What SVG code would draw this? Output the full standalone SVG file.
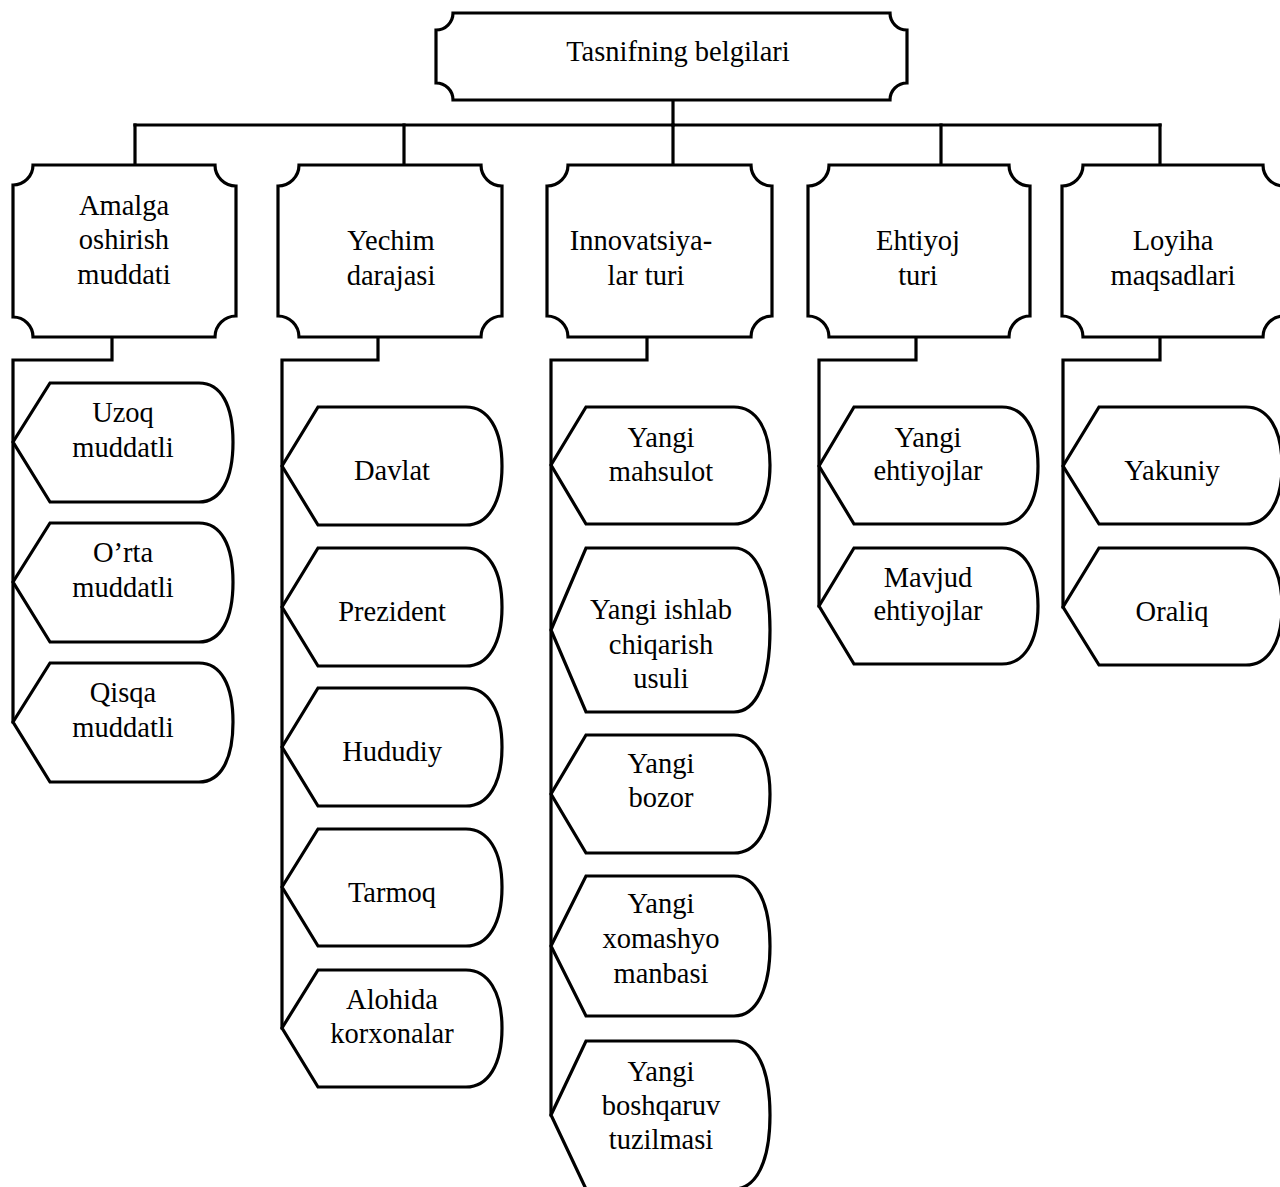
<svg xmlns="http://www.w3.org/2000/svg" width="1280" height="1187" viewBox="0 0 1280 1187">
  <style>
    .box { fill: #ffffff; stroke: #000000; stroke-width: 3.2; stroke-linejoin: miter; }
    .wire { fill: none; stroke: #000000; stroke-width: 3.2; stroke-linecap: square; stroke-linejoin: miter; }
    text { font-family: "Liberation Serif", "Times New Roman", serif; font-size: 28.5px; fill: #000000; text-anchor: middle; }
  </style>
  <rect width="1280" height="1187" fill="#ffffff"/>

  <!-- connectors -->
  <g id="connectors">
    <path class="wire" d="M673,100 V125"/>
    <path class="wire" d="M135,125 H1160"/>
    <path class="wire" d="M135,125 V165"/>
    <path class="wire" d="M404,125 V165"/>
    <path class="wire" d="M673,125 V165"/>
    <path class="wire" d="M941,125 V165"/>
    <path class="wire" d="M1160,125 V165"/>
    <path class="wire" d="M112,337 V360 H13 V722"/>
    <path class="wire" d="M378,337 V360 H282 V1028"/>
    <path class="wire" d="M647,337 V360 H551 V1115"/>
    <path class="wire" d="M916,337 V360 H819 V606"/>
    <path class="wire" d="M1160,337 V360 H1063 V607"/>
  </g>

  <!-- root -->
  <g id="root">
    <path class="box" d="M453,13 H890 A17,17 0 0 0 907,30 V83 A17,17 0 0 0 890,100 H453 A17,17 0 0 0 436,83 V30 A17,17 0 0 0 453,13 Z"/>
    <text x="678" y="61">Tasnifning belgilari</text>
  </g>

  <!-- categories -->
  <g id="cat-amalga">
    <path class="box" d="M33,165 H215 A21,21 0 0 0 236,186 V316 A21,21 0 0 0 215,337 H33 A20,20 0 0 0 13,317 V185 A20,20 0 0 0 33,165 Z"/>
    <text x="124" y="215">Amalga</text>
    <text x="124" y="249">oshirish</text>
    <text x="124" y="284">muddati</text>
  </g>
  <g id="cat-yechim">
    <path class="box" d="M299,165 H481 A21,21 0 0 0 502,186 V316 A21,21 0 0 0 481,337 H299 A21,21 0 0 0 278,316 V186 A21,21 0 0 0 299,165 Z"/>
    <text x="391" y="250">Yechim</text>
    <text x="391" y="285">darajasi</text>
  </g>
  <g id="cat-innovatsiya">
    <path class="box" d="M568,165 H751 A21,21 0 0 0 772,186 V316 A21,21 0 0 0 751,337 H568 A21,21 0 0 0 547,316 V186 A21,21 0 0 0 568,165 Z"/>
    <text x="641" y="250">Innovatsiya-</text>
    <text x="646" y="285">lar turi</text>
  </g>
  <g id="cat-ehtiyoj">
    <path class="box" d="M829,165 H1009 A21,21 0 0 0 1030,186 V316 A21,21 0 0 0 1009,337 H829 A21,21 0 0 0 808,316 V186 A21,21 0 0 0 829,165 Z"/>
    <text x="918" y="250">Ehtiyoj</text>
    <text x="918" y="285">turi</text>
  </g>
  <g id="cat-loyiha">
    <path class="box" d="M1083,165 H1263 A21,21 0 0 0 1284,186 V316 A21,21 0 0 0 1263,337 H1083 A21,21 0 0 0 1062,316 V186 A21,21 0 0 0 1083,165 Z"/>
    <text x="1173" y="250">Loyiha</text>
    <text x="1173" y="285">maqsadlari</text>
  </g>

  <!-- Amalga oshirish muddati: leaves -->
  <g id="leaf-uzoq">
    <path class="box" d="M13,442 L50,383 H199 C221,383 233,405 233,442 C233,479 221,502 199,502 H50 Z"/>
    <text x="123" y="422">Uzoq</text>
    <text x="123" y="457">muddatli</text>
  </g>
  <g id="leaf-orta">
    <path class="box" d="M13,582 L50,523 H199 C221,523 233,545 233,582 C233,619 221,642 199,642 H50 Z"/>
    <text x="123" y="562">O’rta</text>
    <text x="123" y="597">muddatli</text>
  </g>
  <g id="leaf-qisqa">
    <path class="box" d="M13,722 L50,663 H199 C221,663 233,685 233,722 C233,759 221,782 199,782 H50 Z"/>
    <text x="123" y="702">Qisqa</text>
    <text x="123" y="737">muddatli</text>
  </g>

  <!-- Yechim darajasi: leaves -->
  <g id="leaf-davlat">
    <path class="box" d="M282,466 L318,407 H466 C488,407 502,429 502,466 C502,503 488,525 466,525 H318 Z"/>
    <text x="392" y="480">Davlat</text>
  </g>
  <g id="leaf-prezident">
    <path class="box" d="M282,607 L318,548 H466 C488,548 502,570 502,607 C502,644 488,666 466,666 H318 Z"/>
    <text x="392" y="621">Prezident</text>
  </g>
  <g id="leaf-hududiy">
    <path class="box" d="M282,747 L318,688 H466 C488,688 502,710 502,747 C502,784 488,806 466,806 H318 Z"/>
    <text x="392" y="761">Hududiy</text>
  </g>
  <g id="leaf-tarmoq">
    <path class="box" d="M282,887 L318,829 H466 C488,829 502,851 502,887 C502,924 488,946 466,946 H318 Z"/>
    <text x="392" y="902">Tarmoq</text>
  </g>
  <g id="leaf-alohida">
    <path class="box" d="M282,1028 L318,970 H466 C488,970 502,992 502,1028 C502,1065 488,1087 466,1087 H318 Z"/>
    <text x="392" y="1009">Alohida</text>
    <text x="392" y="1043">korxonalar</text>
  </g>

  <!-- Innovatsiyalar turi: leaves -->
  <g id="leaf-mahsulot">
    <path class="box" d="M551,465 L586,407 H734 C756,407 770,429 770,465 C770,502 756,524 734,524 H586 Z"/>
    <text x="661" y="447">Yangi</text>
    <text x="661" y="481">mahsulot</text>
  </g>
  <g id="leaf-ishlab">
    <path class="box" d="M551,630 L586,548 H734 C756,548 770,578 770,630 C770,682 756,712 734,712 H586 Z"/>
    <text x="661" y="619">Yangi ishlab</text>
    <text x="661" y="654">chiqarish</text>
    <text x="661" y="688">usuli</text>
  </g>
  <g id="leaf-bozor">
    <path class="box" d="M551,794 L586,735 H734 C756,735 770,757 770,794 C770,831 756,853 734,853 H586 Z"/>
    <text x="661" y="773">Yangi</text>
    <text x="661" y="807">bozor</text>
  </g>
  <g id="leaf-xomashyo">
    <path class="box" d="M551,946 L586,876 H734 C756,876 770,902 770,946 C770,990 756,1016 734,1016 H586 Z"/>
    <text x="661" y="913">Yangi</text>
    <text x="661" y="948">xomashyo</text>
    <text x="661" y="983">manbasi</text>
  </g>
  <g id="leaf-boshqaruv">
    <path class="box" d="M551,1115 L586,1041 H734 C756,1041 770,1068 770,1115 C770,1162 756,1189 734,1189 H586 Z"/>
    <text x="661" y="1081">Yangi</text>
    <text x="661" y="1115">boshqaruv</text>
    <text x="661" y="1149">tuzilmasi</text>
  </g>

  <!-- Ehtiyoj turi: leaves -->
  <g id="leaf-yangi-ehtiyoj">
    <path class="box" d="M819,466 L854,407 H1002 C1024,407 1038,429 1038,466 C1038,502 1024,524 1002,524 H854 Z"/>
    <text x="928" y="447">Yangi</text>
    <text x="928" y="480">ehtiyojlar</text>
  </g>
  <g id="leaf-mavjud-ehtiyoj">
    <path class="box" d="M819,606 L854,548 H1002 C1024,548 1038,570 1038,606 C1038,642 1024,664 1002,664 H854 Z"/>
    <text x="928" y="587">Mavjud</text>
    <text x="928" y="620">ehtiyojlar</text>
  </g>

  <!-- Loyiha maqsadlari: leaves -->
  <g id="leaf-yakuniy">
    <path class="box" d="M1063,466 L1099,407 H1246 C1268,407 1282,429 1282,466 C1282,502 1268,524 1246,524 H1099 Z"/>
    <text x="1172" y="480">Yakuniy</text>
  </g>
  <g id="leaf-oraliq">
    <path class="box" d="M1063,607 L1099,548 H1246 C1268,548 1282,570 1282,607 C1282,643 1268,665 1246,665 H1099 Z"/>
    <text x="1172" y="621">Oraliq</text>
  </g>
</svg>
